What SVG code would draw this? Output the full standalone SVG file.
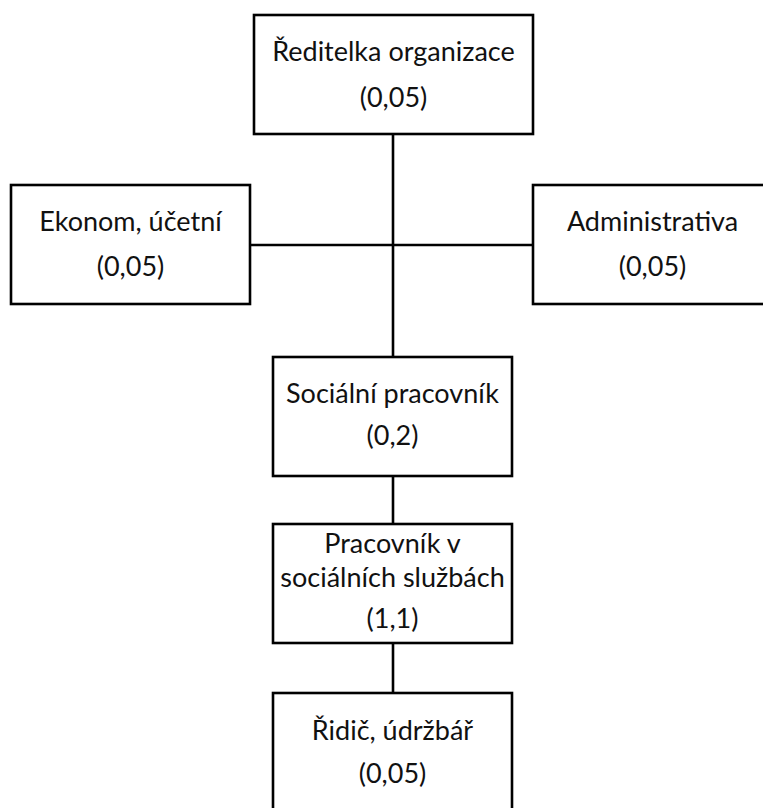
<svg xmlns="http://www.w3.org/2000/svg" width="763" height="808" viewBox="0 0 763 808">
<style>
.box{fill:#fff;stroke:#000;stroke-width:2.6}
.ln{stroke:#000;stroke-width:2.6;fill:none}
text{font-family:Lato,"Open Sans","Liberation Sans",sans-serif;font-size:27px;fill:#111;text-anchor:middle}
</style>
<rect width="763" height="808" fill="#fff"/>
<g id="connectors">
<line class="ln" x1="393" y1="134" x2="393" y2="357"/>
<line class="ln" x1="250" y1="245" x2="533" y2="245"/>
<line class="ln" x1="393" y1="476" x2="393" y2="524"/>
<line class="ln" x1="393" y1="643" x2="393" y2="693"/>
</g>
<g id="n-reditelka">
<rect class="box" x="254" y="15" width="279" height="119"/>
<text x="393.5" y="61">Ředitelka organizace</text>
<text x="393.5" y="107">(0,05)</text>
</g>
<g id="n-ekonom">
<rect class="box" x="11" y="185" width="239" height="119"/>
<text x="130.5" y="231">Ekonom, účetní</text>
<text x="130.5" y="276">(0,05)</text>
</g>
<g id="n-administrativa">
<rect class="box" x="533" y="185" width="239" height="119"/>
<text x="652.5" y="231">Administrativa</text>
<text x="652.5" y="276">(0,05)</text>
</g>
<g id="n-socialni">
<rect class="box" x="273" y="357" width="239" height="119"/>
<text x="392.5" y="403">Sociální pracovník</text>
<text x="392.5" y="445">(0,2)</text>
</g>
<g id="n-pracovnik">
<rect class="box" x="273" y="524" width="239" height="119"/>
<text x="392.5" y="553">Pracovník v</text>
<text x="392.5" y="587">sociálních službách</text>
<text x="392.5" y="628">(1,1)</text>
</g>
<g id="n-ridic">
<rect class="box" x="273" y="693" width="239" height="130"/>
<text x="392.5" y="740">Řidič, údržbář</text>
<text x="392.5" y="783">(0,05)</text>
</g>
</svg>
